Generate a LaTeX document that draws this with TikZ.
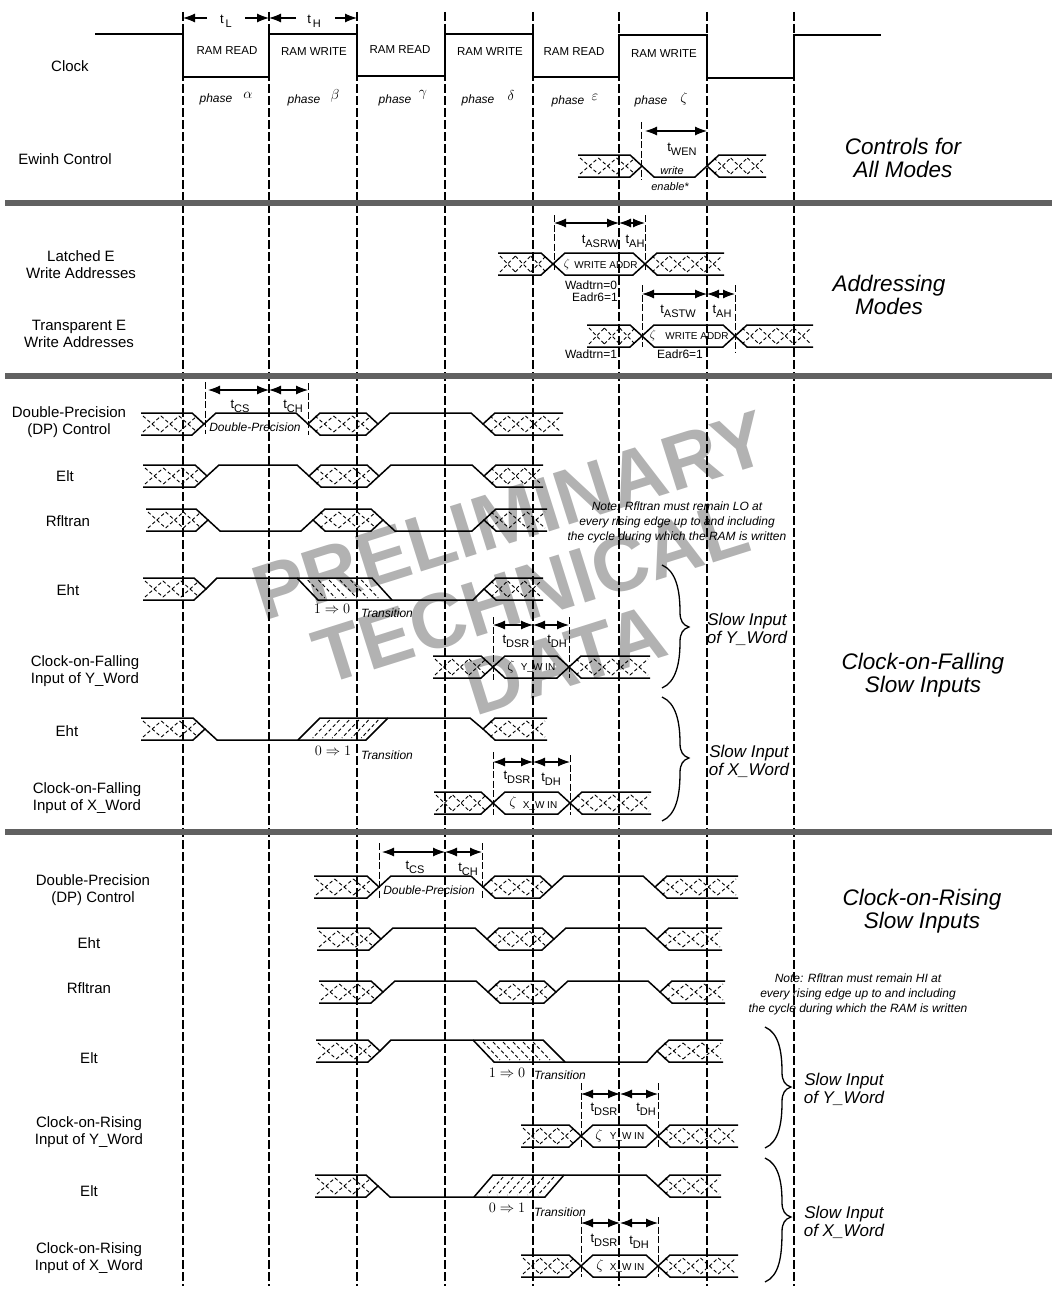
\documentclass[tikz,border=0pt]{standalone}
\usepackage{fontspec}
\setmainfont{Liberation Sans}
\usetikzlibrary{arrows.meta}

\newcommand{\tsub}[1]{t\raisebox{-4pt}{\fontsize{11}{13}\selectfont #1}}
\newcommand{\crosses}[3]{%
  \pgfmathtruncatemacro{\nx}{max(1,round(((#2)-(#1))/18))}%
  \pgfmathsetmacro{\wx}{((#2)-(#1))/\nx}%
  \foreach \k in {1,...,\nx} {
    \draw[xhatch] ({#1+(\k-1)*\wx},#3-8) -- ({#1+\k*\wx},#3+8);
    \draw[xhatch] ({#1+(\k-1)*\wx},#3+8) -- ({#1+\k*\wx},#3-8);
  }}
\newcommand{\busin}[3]{%
  \draw[sig] (#1,#3-11) -- (#2-12,#3-11) -- (#2,#3) -- (#2-12,#3+11) -- (#1,#3+11);
  \crosses{#1+2}{#2-7}{#3}}
\newcommand{\busout}[3]{%
  \draw[sig] (#2,#3-11) -- (#1+12,#3-11) -- (#1,#3) -- (#1+12,#3+11) -- (#2,#3+11);
  \crosses{#1+7}{#2-2}{#3}}
\newcommand{\datahex}[3]{%
  \draw[sig] (#1,#3) -- (#1+12,#3-11) -- (#2-12,#3-11) -- (#2,#3) -- (#2-12,#3+11) -- (#1+12,#3+11) -- cycle;}
\newcommand{\busbox}[3]{%
  \datahex{#1}{#2}{#3}
  \crosses{#1+7}{#2-7}{#3}}
\newcommand{\hiwave}[3]{\draw[sig] (#1,#3) -- (#1+12,#3-11) -- (#2-12,#3-11) -- (#2,#3);}
\newcommand{\lowave}[3]{\draw[sig] (#1,#3) -- (#1+12,#3+11) -- (#2-12,#3+11) -- (#2,#3);}
\newcommand{\slowhatch}[4]{%
  \foreach \k in {1,...,6} {
    \draw[xhatch] ({#1+(#2-#1)*\k/7},#3-9) -- ({#1+(#2-#1)*\k/7+#4},#3+9);
  }}
\newcommand{\dimspan}[3]{\draw[dimline] (#1,#3) -- (#2,#3);}
\newcommand{\guide}[3]{\draw[tickline] (#1,#2) -- (#1,#3);}
\newcommand{\curlybrace}[5]{%
  \draw[bracket] (#1,#3) .. controls (#1+14,#3+6) and (#2-9,#3+25) .. (#2-9,#4-15)
    .. controls (#2-9,#4-6) and (#2-6,#4-2) .. (#2,#4)
    .. controls (#2-6,#4+2) and (#2-9,#4+6) .. (#2-9,#4+15)
    .. controls (#2-9,#5-25) and (#1+14,#5-6) .. (#1,#5);}

\begin{document}
\begin{tikzpicture}[
    x=1pt,y=-1pt,
    sig/.style={line width=1.5pt,line join=miter},
    xhatch/.style={line width=0.9pt,dash pattern=on 3.5pt off 2.5pt},
    gridline/.style={line width=1.1pt,dash pattern=on 9pt off 3pt},
    tickline/.style={line width=0.8pt,dash pattern=on 7pt off 2.5pt},
    dimline/.style={line width=1.1pt,{Latex[length=12pt,width=9pt]}-{Latex[length=12pt,width=9pt]}},
    halfdim/.style={line width=1.1pt,-{Latex[length=12pt,width=9pt]}},
    bracket/.style={line width=1.3pt},
    band/.style={line width=5.5pt,black!62},
    sigtext/.style={inner sep=0pt,align=center,font=\fontsize{15}{17}\selectfont},
    ramtext/.style={inner sep=0pt,font=\fontsize{11.5}{14}\selectfont},
    phasetext/.style={inner sep=0pt,font=\itshape\fontsize{12}{14}\selectfont},
    greek/.style={inner sep=0pt,font=\fontsize{15}{17}\selectfont},
    timetext/.style={inner sep=0pt,font=\fontsize{13}{15}\selectfont},
    smalltext/.style={inner sep=0pt,font=\fontsize{12}{14}\selectfont},
    addrtext/.style={inner sep=0pt,font=\fontsize{10}{12}\selectfont},
    writetext/.style={inner sep=0pt,font=\itshape\fontsize{11}{13}\selectfont},
    dptext/.style={inner sep=0pt,font=\itshape\fontsize{12}{14}\selectfont},
    logictext/.style={inner sep=0pt,font=\fontsize{14}{16}\selectfont},
    trantext/.style={inner sep=0pt,font=\itshape\fontsize{12}{14}\selectfont},
    notetext/.style={inner sep=0pt,align=center,font=\itshape\fontsize{12}{15}\selectfont},
    slowtext/.style={inner sep=0pt,align=center,font=\itshape\fontsize{17}{18}\selectfont},
    modetext/.style={inner sep=0pt,align=center,font=\itshape\fontsize{22.5}{23}\selectfont},
    stamp/.style={inner sep=0pt,rotate=17.5,black!30,font=\bfseries\fontsize{78}{80}\selectfont}
]
\useasboundingbox (0,0) rectangle (1052,1290);

\node[stamp] (stampa) at (510,516) {PRELIMINARY};
\node[stamp] (stampb) at (531,592) {TECHNICAL};
\node[stamp] (stampc) at (565,660) {DATA};

\foreach \x in {183,269,357,445,533,619,707,794}
  \draw[gridline] (\x,12) -- (\x,1286);
\foreach \y in {203,376,832}
  \draw[band] (5,\y) -- (1052,\y);

\draw[sig] (95,34) -- (183,34) -- (183,77) -- (269,77) -- (269,34) -- (357,34) -- (357,76) -- (445,76) -- (445,34) -- (533,34) -- (533,77) -- (619,77) -- (619,35) -- (707,35) -- (707,78) -- (794,78) -- (794,35) -- (881,35);
\draw[halfdim] (207,18) -- (183,18);
\draw[halfdim] (245,18) -- (269,18);
\draw[halfdim] (296,18) -- (269,18);
\draw[halfdim] (335,18) -- (357,18);
\node[timetext] (tl) at (226,21) {\tsub{\,L}};
\node[timetext] (th) at (314,21) {\tsub{\,H}};

\node[ramtext] (ramaa) at (227,51) {RAM READ};
\node[ramtext] (rambb) at (314,52) {RAM WRITE};
\node[ramtext] (ramcc) at (400,50) {RAM READ};
\node[ramtext] (ramdd) at (490,52) {RAM WRITE};
\node[ramtext] (ramee) at (574,52) {RAM READ};
\node[ramtext] (ramff) at (664,54) {RAM WRITE};

\node[phasetext] (pha) at (216,99) {phase};
\node[greek] (gra) at (248,95) {$\alpha$};
\node[phasetext] (phb) at (304,100) {phase};
\node[greek] (grb) at (335,96) {$\beta$};
\node[phasetext] (phc) at (395,100) {phase};
\node[greek] (grc) at (423,95) {$\gamma$};
\node[phasetext] (phd) at (478,100) {phase};
\node[greek] (grd) at (511,95) {$\delta$};
\node[phasetext] (phe) at (568,101) {phase};
\node[greek] (gre) at (595,97) {$\varepsilon$};
\node[phasetext] (phf) at (651,101) {phase};
\node[greek] (grf) at (684,99) {$\zeta$};

\node[sigtext] (clock) at (70,66) {Clock};
\node[sigtext] (ewinh) at (65,159) {Ewinh Control};
\node[sigtext] (latched) at (81,265) {Latched E\\Write Addresses};
\node[sigtext] (transp) at (79,334) {Transparent E\\Write Addresses};
\node[sigtext] (dpfall) at (69,422) {Double-Precision\\(DP) Control};
\node[sigtext] (eltfall) at (65,476) {Elt};
\node[sigtext] (rflfall) at (68,521) {Rfltran};
\node[sigtext] (ehta) at (68,590) {Eht};
\node[sigtext] (yfall) at (85,671) {Clock-on-Falling\\Input of Y\_Word};
\node[sigtext] (ehtb) at (67,731) {Eht};
\node[sigtext] (xfall) at (87,798) {Clock-on-Falling\\Input of X\_Word};
\node[sigtext] (dprise) at (93,890) {Double-Precision\\(DP) Control};
\node[sigtext] (ehtrise) at (89,943) {Eht};
\node[sigtext] (rflrise) at (89,988) {Rfltran};
\node[sigtext] (elta) at (89,1058) {Elt};
\node[sigtext] (yrise) at (89,1132) {Clock-on-Rising\\Input of Y\_Word};
\node[sigtext] (eltb) at (89,1191) {Elt};
\node[sigtext] (xrise) at (89,1258) {Clock-on-Rising\\Input of X\_Word};

\node[modetext] (modea) at (903,158) {Controls for\\All Modes};
\node[modetext] (modeb) at (889,295) {Addressing\\Modes};
\node[modetext] (modec) at (923,675) {Clock-on-Falling\\Slow Inputs};
\node[modetext] (moded) at (922,911) {Clock-on-Rising\\Slow Inputs};

\busin{578}{642}{166}
\lowave{642}{707}{166}
\busout{707}{766}{166}
\guide{641}{122}{180}
\dimspan{645}{707}{131}
\node[timetext] (twen) at (682,149) {\tsub{WEN}};
\node[writetext] (wra) at (672,171) {write};
\node[writetext] (wrb) at (670,187) {enable*};

\busin{498}{553}{264}
\datahex{553}{645}{264}
\busout{645}{724}{264}
\guide{554}{215}{272}
\guide{645}{215}{270}
\dimspan{554}{619}{223}
\dimspan{619}{645}{223}
\node[timetext] (tasrw) at (600,241) {\tsub{ASRW}};
\node[timetext] (taha) at (635,241) {\tsub{AH}};
\node[smalltext] (zaa) at (567,264) {$\zeta$};
\node[addrtext] (addra) at (606,265) {WRITE ADDR};
\node[smalltext] (wada) at (591,285) {Wadtrn=0};
\node[smalltext] (eada) at (595,297) {Eadr6=1};

\busin{587}{642}{336}
\datahex{642}{735}{336}
\busout{735}{813}{336}
\guide{642}{285}{347}
\guide{735}{285}{352}
\dimspan{642}{707}{294}
\dimspan{707}{735}{294}
\node[timetext] (tastw) at (678,311) {\tsub{ASTW}};
\node[timetext] (tahb) at (722,311) {\tsub{AH}};
\node[smalltext] (zab) at (653,335) {$\zeta$};
\node[addrtext] (addrb) at (697,336) {WRITE ADDR};
\node[smalltext] (wadb) at (591,354) {Wadtrn=1};
\node[smalltext] (eadb) at (680,354) {Eadr6=1};

\busin{141}{204}{424}
\hiwave{204}{308}{424}
\busbox{308}{378}{424}
\hiwave{378}{483}{424}
\busout{483}{563}{424}
\guide{205}{382}{434}
\guide{308}{383}{435}
\dimspan{208}{269}{390}
\dimspan{269}{308}{390}
\node[timetext] (tcsa) at (240,406) {\tsub{CS}};
\node[timetext] (tcha) at (293,406) {\tsub{CH}};
\node[dptext] (dpa) at (255,427) {Double-Precision};

\busin{143}{207}{476}
\hiwave{207}{309}{476}
\busbox{309}{379}{476}
\hiwave{379}{484}{476}
\busout{484}{543}{476}

\busin{146}{208}{520}
\lowave{208}{313}{520}
\busbox{313}{383}{520}
\lowave{383}{484}{520}
\busout{484}{547}{520}

\busin{143}{206}{589}
\draw[sig] (206,589) -- (217,578) -- (372,578) -- (392,600);
\draw[sig] (297,578) -- (318,600) -- (473,600) -- (484,589);
\slowhatch{297}{372}{589}{17}
\busout{484}{543}{589}
\node[logictext] (hla) at (332,609) {$1\Rightarrow0$};
\node[trantext] (trana) at (387,613) {Transition};

\guide{493}{617}{680}
\guide{569}{617}{678}
\dimspan{493}{533}{625}
\dimspan{533}{569}{625}
\node[timetext] (tdsra) at (516,641) {\tsub{DSR}};
\node[timetext] (tdha) at (557,641) {\tsub{DH}};
\busin{433}{493}{667}
\datahex{493}{569}{667}
\busout{569}{650}{667}
\node[greek] (zya) at (511,667) {$\zeta$};
\node[addrtext] (wya) at (538,668) {Y\_W IN};

\busin{141}{205}{729}
\draw[sig] (205,729) -- (217,740) -- (366,740) -- (388,718);
\draw[sig] (298,740) -- (320,718) -- (470,718) -- (483,729);
\slowhatch{320}{388}{729}{-17}
\busout{483}{547}{729}
\node[logictext] (lha) at (333,751) {$0\Rightarrow1$};
\node[trantext] (tranb) at (387,755) {Transition};

\guide{493}{752}{815}
\guide{570}{755}{815}
\dimspan{493}{533}{762}
\dimspan{533}{570}{762}
\node[timetext] (tdsrb) at (517,777) {\tsub{DSR}};
\node[timetext] (tdhb) at (551,779) {\tsub{DH}};
\busin{434}{493}{803}
\datahex{493}{570}{803}
\busout{570}{651}{803}
\node[greek] (zxa) at (513,803) {$\zeta$};
\node[addrtext] (wxa) at (540,806) {X\_W IN};

\curlybrace{662}{689}{565}{627}{688}
\curlybrace{662}{689}{697}{758}{821}
\node[slowtext] (slowya) at (747,629) {Slow Input\\of Y\_Word};
\node[slowtext] (slowxa) at (749,761) {Slow Input\\of X\_Word};
\node[notetext] (notea) at (677,522) {Note: Rfltran must remain LO at\\every rising edge up to and including\\the cycle during which the RAM is written};

\busin{314}{379}{887}
\hiwave{379}{483}{887}
\busbox{483}{552}{887}
\hiwave{552}{655}{887}
\busout{655}{738}{887}
\guide{379}{843}{898}
\guide{482}{843}{898}
\dimspan{382}{445}{852}
\dimspan{445}{482}{852}
\node[timetext] (tcsb) at (415,867) {\tsub{CS}};
\node[timetext] (tchb) at (468,869) {\tsub{CH}};
\node[dptext] (dpb) at (429,890) {Double-Precision};

\busin{317}{381}{939}
\hiwave{381}{487}{939}
\busbox{487}{554}{939}
\hiwave{554}{657}{939}
\busout{657}{722}{939}

\busin{319}{383}{992}
\hiwave{383}{488}{992}
\busbox{488}{556}{992}
\hiwave{556}{660}{992}
\busout{660}{725}{992}

\busin{316}{380}{1051}
\draw[sig] (380,1051) -- (391,1040) -- (543,1040) -- (565,1062);
\draw[sig] (473,1040) -- (494,1062) -- (647,1062) -- (657,1051);
\slowhatch{473}{543}{1051}{17}
\busout{657}{723}{1051}
\node[logictext] (hlb) at (507,1073) {$1\Rightarrow0$};
\node[trantext] (tranc) at (560,1075) {Transition};

\guide{581}{1083}{1147}
\guide{658}{1083}{1147}
\dimspan{581}{620}{1094}
\dimspan{620}{658}{1094}
\node[timetext] (tdsrc) at (604,1109) {\tsub{DSR}};
\node[timetext] (tdhc) at (646,1109) {\tsub{DH}};
\busin{521}{581}{1136}
\datahex{581}{658}{1136}
\busout{658}{738}{1136}
\node[greek] (zyb) at (599,1136) {$\zeta$};
\node[addrtext] (wyb) at (627,1137) {Y\_W IN};

\busin{315}{378}{1186}
\draw[sig] (378,1186) -- (390,1197) -- (545,1197) -- (564,1175);
\draw[sig] (474,1197) -- (493,1175) -- (646,1175) -- (658,1186);
\slowhatch{493}{564}{1186}{-16}
\busout{658}{721}{1186}
\node[logictext] (lhb) at (507,1208) {$0\Rightarrow1$};
\node[trantext] (trand) at (560,1212) {Transition};

\guide{581}{1217}{1277}
\guide{658}{1217}{1277}
\dimspan{581}{620}{1223}
\dimspan{620}{658}{1223}
\node[timetext] (tdsrd) at (604,1240) {\tsub{DSR}};
\node[timetext] (tdhd) at (639,1242) {\tsub{DH}};
\busin{521}{581}{1266}
\datahex{581}{658}{1266}
\busout{658}{738}{1266}
\node[greek] (zxb) at (600,1266) {$\zeta$};
\node[addrtext] (wxb) at (627,1268) {X\_W IN};

\curlybrace{765}{791}{1027}{1087}{1148}
\curlybrace{765}{791}{1158}{1217}{1282}
\node[slowtext] (slowyb) at (844,1089) {Slow Input\\of Y\_Word};
\node[slowtext] (slowxb) at (844,1222) {Slow Input\\of X\_Word};
\node[notetext] (noteb) at (858,994) {Note: Rfltran must remain HI at\\every rising edge up to and including\\the cycle during which the RAM is written};
\end{tikzpicture}
\end{document}
